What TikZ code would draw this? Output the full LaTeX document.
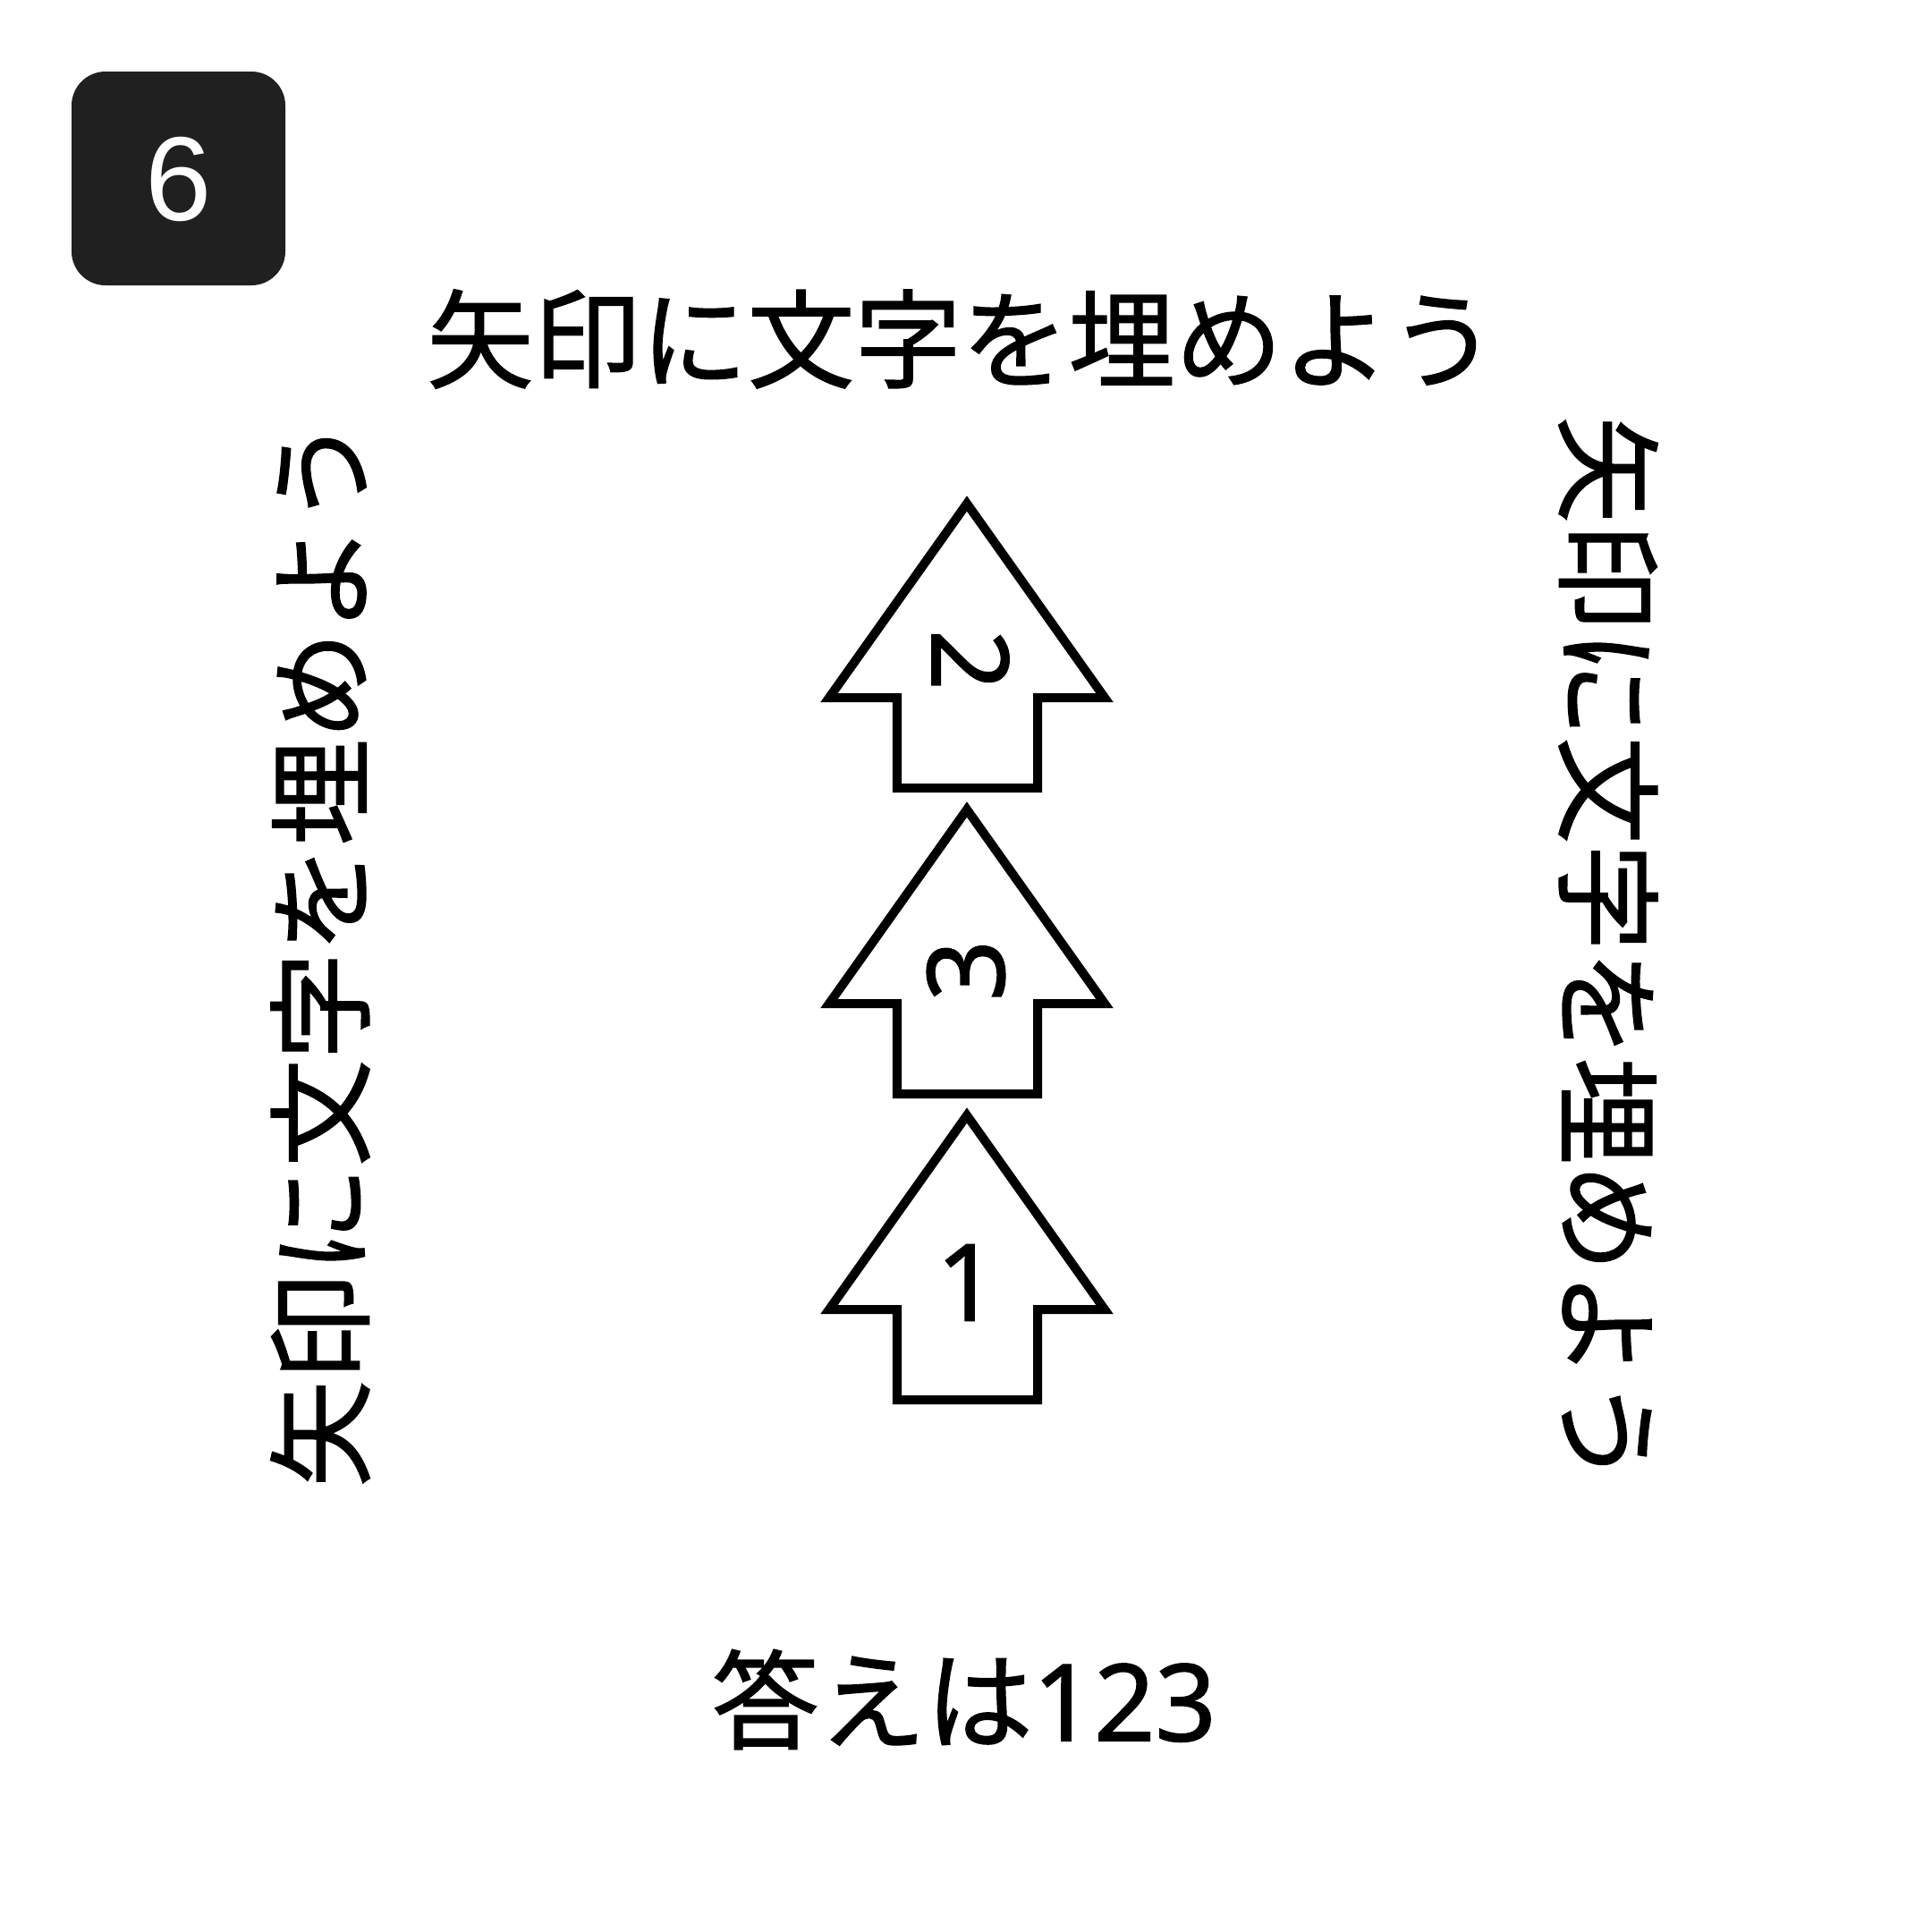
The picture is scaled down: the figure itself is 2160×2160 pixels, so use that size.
\documentclass[tikz,border=0pt]{standalone}
\usepackage{fontspec}
\newfontfamily\jpfont[FakeBold=1.2]{Noto Sans CJK JP}
\newfontfamily\digitfont[FakeBold=1.2]{Noto Sans}
\newfontfamily\badgefont{Liberation Sans}
\definecolor{badge}{HTML}{202020}
\begin{document}
\begin{tikzpicture}[x=0.01cm,y=-0.01cm,
  jptext/.style={font=\jpfont\fontsize{34}{40}\selectfont, inner sep=0pt, text=black},
  digit/.style={font=\digitfont\fontsize{34}{40}\selectfont, inner sep=0pt, text=black},
  arrowshape/.style={draw=black, line width=2.85pt, fill=white, miter limit=10}
]
\useasboundingbox (0,0) rectangle (2160,2160);
\fill[white] (0,0) rectangle (2160,2160);

% badge
\fill[badge, rounded corners=10.8pt] (80,80) rectangle (319,319);
\node[font=\badgefont\fontsize{38}{44}\selectfont, text=white, inner sep=0pt] (num) at (200,200) {6};

% titles
\node[jptext] (top) at (1075,379) {矢印に文字を埋めよう};
\node[jptext, rotate=90] (left) at (358,1065) {矢印に文字を埋めよう};
\node[jptext, rotate=-90] (right) at (1798,1063) {矢印に文字を埋めよう};
\node[jptext] (answer) at (1078,1900) {答えは{\digitfont 123}};

% arrows
\foreach \w in {780,1122,1464}{
  \draw[arrowshape] (1081,\w-217) -- (1235,\w) -- (1160,\w) -- (1160,\w+101)
     -- (1003,\w+101) -- (1003,\w) -- (927,\w) -- cycle;
}
\node[digit, rotate=-90] (d2) at (1085,738) {2};
\node[digit, rotate=90] (d3) at (1080,1085) {3};
\node[digit] (d1) at (1081,1434) {1};
\end{tikzpicture}
\end{document}
